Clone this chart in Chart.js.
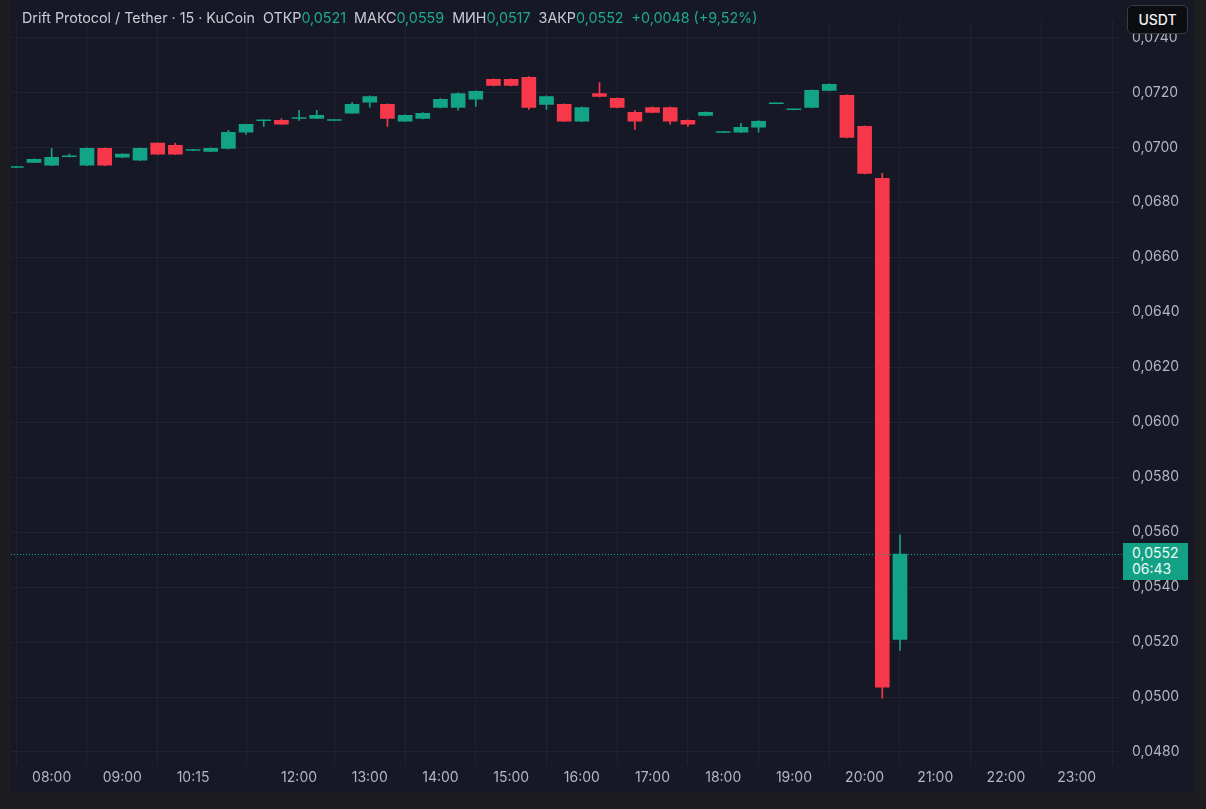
<!DOCTYPE html>
<html>
<head>
<meta charset="utf-8">
<script src="https://cdn.jsdelivr.net/npm/chart.js@4/dist/chart.umd.min.js"></script>
<style>
  html, body { margin: 0; padding: 0; background: #1d1d1f; }
  #wrap { position: relative; width: 1206px; height: 809px; }
  canvas { position: absolute; left: 0; top: 0; }
  .hdr { position: absolute; left: 22px; top: 9px; font: 14.3px Inter, sans-serif; color: #c9ccd6; white-space: pre; }
  .hdr .v { color: #1fa98c; }
  .usdt { position: absolute; left: 1127px; top: 5px; width: 61px; height: 29px; box-sizing: border-box;
          background: #0c0d10; border: 1px solid #3a3c44; border-radius: 5px; color: #f0f0f0;
          font: 500 14px Inter, sans-serif; text-align: center; line-height: 27px; }
  .last { position: absolute; left: 1123px; top: 543px; width: 65px; height: 37px; background: #13a185;
          color: #eafaf5; font: 14px Inter, sans-serif; line-height: 16px; padding: 2px 0 0 9px; box-sizing: border-box; }
</style>
</head>
<body>
<div id="wrap">
  <canvas id="chart" width="1206" height="809"></canvas>
  <div class="hdr">Drift Protocol / Tether · 15 · KuCoin  ОТКР<span class="v">0,0521</span>  МАКС<span class="v">0,0559</span>  МИН<span class="v">0,0517</span>  ЗАКР<span class="v">0,0552</span>  <span class="v">+0,0048 (+9,52%)</span></div>
  <div class="usdt">USDT</div>
  <div class="last">0,0552<br>06:43</div>
</div>
<script>
// 15-minute candles, prices in USDT
const times = ['07:30','07:45','08:00','08:15','08:30','08:45','09:00','09:15','09:30','09:45',
  '10:15','10:30','10:45','11:00','11:15','11:30','12:00','12:15','12:30','12:45',
  '13:00','13:15','13:30','13:45','14:00','14:15','14:30','14:45','15:00','15:15',
  '15:30','15:45','16:00','16:15','16:30','16:45','17:00','17:15','17:30','17:45',
  '18:00','18:15','18:30','18:45','19:00','19:15','19:30','19:45','20:00','20:15','20:30'];
const futureSlots = ['20:45','21:00','21:15','21:30','21:45','22:00','22:15','22:30','22:45','23:00','23:15','23:30','23:45'];

const openP  = [0.06927,0.06945,0.06935,0.06966,0.06935,0.06996,0.06964,0.06953,0.07015,0.07007,
  0.06989,0.06985,0.06996,0.07055,0.07097,0.07098,0.07105,0.07105,0.07098,0.07124,
  0.07164,0.07156,0.07095,0.07105,0.07145,0.07145,0.07175,0.07247,0.07247,0.07255,
  0.07156,0.07156,0.07095,0.07196,0.07178,0.07127,0.07145,0.07145,0.07098,0.07116,
  0.07054,0.07055,0.07073,0.07159,0.07137,0.07145,0.07207,0.07189,0.07076,0.06887,0.0521];
const closeP = [0.06928,0.06956,0.06964,0.06968,0.06996,0.06935,0.06975,0.06996,0.06975,0.06975,
  0.06990,0.06996,0.07055,0.07084,0.07097,0.07084,0.07106,0.07116,0.07099,0.07156,
  0.07185,0.07105,0.07116,0.07124,0.07175,0.07196,0.07204,0.07225,0.07225,0.07145,
  0.07185,0.07095,0.07145,0.07185,0.07145,0.07095,0.07127,0.07095,0.07084,0.07127,
  0.07055,0.07073,0.07095,0.07160,0.07138,0.07207,0.07229,0.07036,0.06905,0.05036,0.0552];
const highP  = [0.06929,0.06958,0.06996,0.06975,0.06998,0.06998,0.06976,0.06998,0.07016,0.07015,
  0.06992,0.06998,0.07062,0.07085,0.07099,0.07105,0.07135,0.07135,0.07100,0.07164,
  0.07187,0.07158,0.07118,0.07126,0.07177,0.07198,0.07206,0.07249,0.07249,0.07257,
  0.07187,0.07158,0.07147,0.07236,0.07180,0.07135,0.07147,0.07147,0.07100,0.07129,
  0.07056,0.07087,0.07097,0.07161,0.07139,0.07209,0.07231,0.07191,0.07078,0.06905,0.0559];
const lowP   = [0.06926,0.06944,0.06933,0.06965,0.06933,0.06933,0.06962,0.06951,0.06973,0.06973,
  0.06988,0.06984,0.06994,0.07047,0.07076,0.07083,0.07098,0.07104,0.07097,0.07123,
  0.07145,0.07076,0.07093,0.07103,0.07143,0.07135,0.07149,0.07223,0.07223,0.07138,
  0.07138,0.07093,0.07093,0.07183,0.07143,0.07065,0.07125,0.07084,0.07076,0.07114,
  0.07053,0.07053,0.07055,0.07158,0.07136,0.07143,0.07205,0.07034,0.06903,0.04996,0.0517];

const tickLabels = ['08:00','09:00','10:15','12:00','13:00','14:00','15:00','16:00','17:00','18:00','19:00','20:00','21:00','22:00','23:00'];
const lastPrice = 0.0552;

const slots = times.concat(futureSlots);
const tickIdx = tickLabels.map(t => slots.indexOf(t));

const UP = '#13a386', DOWN = '#f7374a';
const colors = openP.map((o, i) => closeP[i] >= o ? UP : DOWN);

const fmt = v => v.toFixed(4).replace('.', ',');

const bgPlugin = {
  id: 'bg',
  beforeDraw(chart) {
    const c = chart.ctx;
    c.save();
    c.fillStyle = '#1d1d1f';
    c.fillRect(0, 0, chart.width, chart.height);
    c.fillStyle = '#161825';
    c.fillRect(11, 0, 1183, 792);
    c.restore();
  },
  afterDatasetsDraw(chart) {
    const c = chart.ctx, y = chart.scales.y.getPixelForValue(lastPrice);
    c.save();
    c.strokeStyle = UP;
    c.lineWidth = 1;
    c.setLineDash([1, 2]);
    c.beginPath();
    c.moveTo(chart.chartArea.left, Math.round(y) + 0.5);
    c.lineTo(chart.chartArea.right + 3, Math.round(y) + 0.5);
    c.stroke();
    c.restore();
  }
};

new Chart(document.getElementById('chart'), {
  type: 'bar',
  data: {
    datasets: [{
      label: 'wick',
      data: times.map((t, i) => ({ x: i, y: [lowP[i], highP[i]] })),
      backgroundColor: colors,
      barThickness: 1,
      grouped: false,
      order: 2
    }, {
      label: 'body',
      data: times.map((t, i) => {
        let a = openP[i], b = closeP[i];
        if (Math.abs(a - b) < 0.00003) b = a + 0.00003;
        return { x: i, y: [a, b] };
      }),
      backgroundColor: colors,
      barThickness: 14,
      grouped: false,
      order: 1
    }]
  },
  options: {
    responsive: false,
    animation: false,
    layout: { autoPadding: false, padding: { left: 11, right: 12, top: 0, bottom: 17 } },
    plugins: { legend: { display: false }, tooltip: { enabled: false } },
    scales: {
      x: {
        type: 'linear',
        min: -0.3,
        max: 62.45,
        offset: false,
        afterBuildTicks: s => { s.ticks = tickIdx.map(v => ({ value: v })); },
        afterFit: s => { s.height = 27; },
        ticks: {
          autoSkip: false,
          maxRotation: 0,
          padding: 4,
          color: '#b3b6c0',
          font: { family: 'Inter', size: 14 },
          callback: v => slots[v] || ''
        },
        grid: { color: '#1f2231', drawTicks: false },
        border: { display: false }
      },
      y: {
        position: 'right',
        min: 0.047527,
        max: 0.074618,
        afterBuildTicks: s => {
          const t = [];
          for (let v = 480; v <= 740; v += 20) t.push({ value: v / 10000 });
          s.ticks = t;
        },
        afterFit: s => { s.width = 74; },
        ticks: {
          padding: 12,
          color: '#b3b6c0',
          font: { family: 'Inter', size: 14 },
          callback: v => fmt(v)
        },
        grid: { color: '#1f2231', drawTicks: false },
        border: { display: false }
      }
    }
  },
  plugins: [bgPlugin]
});
</script>
</body>
</html>
